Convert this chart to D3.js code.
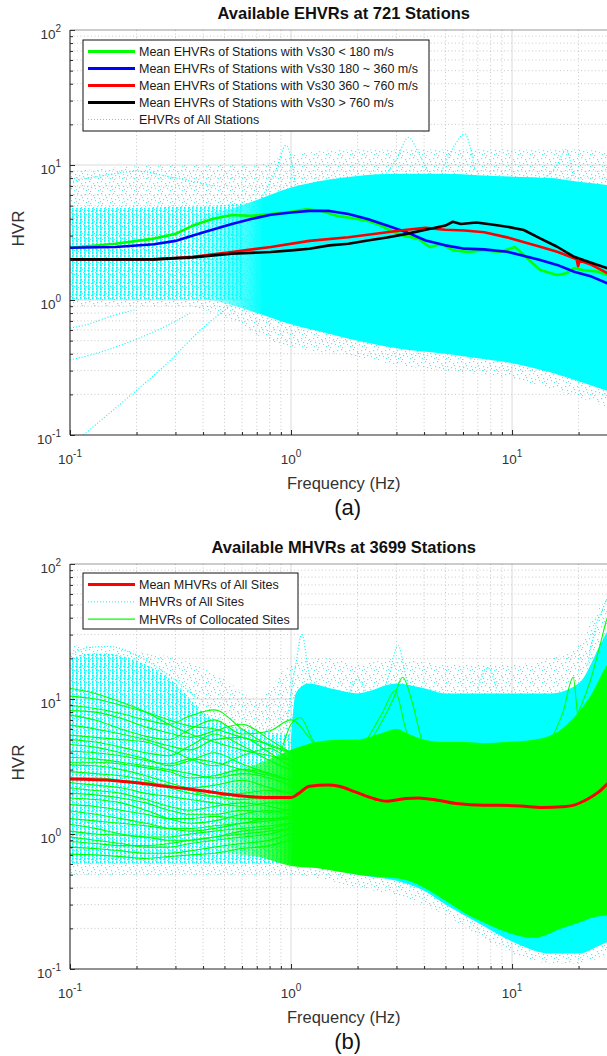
<!DOCTYPE html>
<html><head><meta charset="utf-8">
<script src="https://cdn.jsdelivr.net/npm/d3@7"></script>
<style>
body{margin:0;background:#fff}
text{font-family:Arial,"Liberation Sans",Helvetica,sans-serif}
</style>
</head><body>
<svg id="c" width="607" height="1056"></svg>
<script>
// ---------------- shared axis data ----------------
const xMajorTicks = [0.1, 1, 10];
const yMajorTicks = [0.1, 1, 10, 100];
const tickExponent = {0.1: "-1", 1: "0", 10: "1", 100: "2"};
const minorMultipliers = [2, 3, 4, 5, 6, 7, 8, 9];
const xLabel = "Frequency (Hz)";
const yLabel = "HVR";

// ---------------- panel (a) data ----------------
const titleA = "Available EHVRs at 721 Stations";
const captionA = "(a)";
const legendLabelsA = [
  "Mean EHVRs of Stations with Vs30 < 180 m/s",
  "Mean EHVRs of Stations with Vs30 180 ~ 360 m/s",
  "Mean EHVRs of Stations with Vs30 360 ~ 760 m/s",
  "Mean EHVRs of Stations with Vs30 > 760 m/s",
  "EHVRs of All Stations"
];
const meanVs180A = [[0.1,2.44],[0.16,2.61],[0.24,2.85],[0.3,3.09],[0.36,3.56],[0.44,3.98],[0.54,4.26],[0.66,4.2],[0.81,4.33],[1.0,4.5],[1.17,4.7],[1.37,4.57],[1.61,4.2],[1.82,4.09],[2.22,3.87],[2.51,3.61],[2.72,3.36],[3.2,3.01],[3.76,2.84],[4.24,2.47],[4.79,2.59],[5.4,2.34],[6.35,2.27],[7.47,2.34],[8.79,2.27],[10.3,2.47],[10.7,2.34],[12.2,1.92],[13.4,1.67],[16.0,1.53],[17.6,1.58],[19.1,1.72],[21.0,1.67],[24.5,1.62],[27,1.53],[30,1.48]];
const meanVs360A = [[0.1,2.44],[0.16,2.47],[0.24,2.59],[0.3,2.74],[0.36,3.01],[0.44,3.31],[0.54,3.66],[0.66,3.98],[0.81,4.28],[1.0,4.45],[1.21,4.57],[1.49,4.57],[1.82,4.33],[2.22,3.98],[2.72,3.56],[3.33,3.18],[4.07,2.76],[4.99,2.54],[6.1,2.4],[7.48,2.37],[9.5,2.28],[13.4,1.98],[16.0,1.82],[19.1,1.62],[22.9,1.49],[27,1.33],[30,1.27]];
const meanVs760A = [[0.1,2.0],[0.24,2.0],[0.36,2.09],[0.54,2.27],[0.81,2.47],[1.21,2.74],[1.82,2.92],[2.72,3.18],[3.33,3.31],[4.07,3.42],[4.99,3.31],[6.1,3.27],[7.48,3.18],[9.5,2.91],[13.4,2.48],[16.0,2.28],[19.1,2.04],[19.6,2.0],[19.9,1.78],[20.2,1.96],[22.9,1.82],[27,1.58],[30,1.5]];
const meanVsHardA = [[0.1,2.0],[0.24,2.0],[0.36,2.07],[0.54,2.2],[0.81,2.27],[1.03,2.34],[1.21,2.4],[1.49,2.54],[1.82,2.61],[2.22,2.76],[2.72,2.9],[3.33,3.09],[4.07,3.31],[4.99,3.56],[5.4,3.8],[5.86,3.66],[6.9,3.75],[8.1,3.62],[9.5,3.49],[11.3,3.3],[13.4,2.86],[16.0,2.48],[19.1,2.09],[21.0,1.98],[27,1.72],[30,1.65]];

// cloud of all EHVR curves, read as envelopes
const hatchFreqA = [0.1, 0.2, 0.3, 0.45, 0.6];
const hatchLowA  = [1.0, 1.0, 1.0, 1.0, 1.0];
const hatchHighA = [4.8, 4.8, 4.9, 5.0, 5.2];
const coreFreqA = [0.35, 0.5, 0.7, 1, 1.5, 2, 3, 5, 7, 10, 15, 20, 30];
const coreLowA  = [1.05, 0.95, 0.8, 0.66, 0.56, 0.5, 0.44, 0.4, 0.37, 0.34, 0.29, 0.25, 0.2];
const coreHighA = [4.3, 4.6, 5.5, 6.8, 7.8, 8.3, 8.6, 8.6, 8.4, 8.2, 8.0, 7.5, 7.0];
const sparseFreqA = [0.1, 0.3, 0.5, 0.7, 1, 2, 3, 5, 10, 20, 30];
const sparseLowA  = [0.9, 0.9, 0.75, 0.55, 0.45, 0.38, 0.33, 0.3, 0.26, 0.19, 0.15];
const sparseHighA = [9, 10, 10, 10, 12, 13, 13, 13, 13, 13, 12];
const outlierCurvesA = [
  [[0.115,0.1],[0.19,0.2],[0.27,0.33],[0.39,0.6],[0.55,0.95]],
  [[0.1,0.36],[0.13,0.4],[0.18,0.48],[0.25,0.6],[0.35,0.8]],
  [[0.1,0.62],[0.12,0.66],[0.15,0.75],[0.2,0.85]],
  [[0.1,7.5],[0.15,8.5],[0.2,9],[0.3,8],[0.45,7]],
  [[0.7,5],[0.85,9],[0.95,14],[1.05,7]],
  [[2.6,8],[3.0,11],[3.4,16],[3.8,12],[4.3,8]],
  [[4.8,9],[5.5,14],[6.1,17],[6.8,9]],
  [[14,8],[16,10],[17.5,13],[19,8]]
];

// ---------------- panel (b) data ----------------
const titleB = "Available MHVRs at 3699 Stations";
const captionB = "(b)";
const legendLabelsB = ["Mean MHVRs of All Sites", "MHVRs of All Sites", "MHVRs of Collocated Sites"];
const meanAllB = [[0.1,2.55],[0.16,2.48],[0.24,2.31],[0.36,2.14],[0.54,1.95],[0.81,1.86],[1.0,1.86],[1.08,1.99],[1.21,2.26],[1.47,2.31],[1.65,2.26],[1.95,2.05],[2.42,1.81],[2.72,1.75],[3.3,1.83],[3.76,1.85],[4.6,1.78],[5.6,1.68],[7.47,1.63],[8.8,1.63],[11,1.61],[13.7,1.57],[16.8,1.59],[18.9,1.63],[22.2,1.83],[24.6,2.04],[27,2.35],[30,2.7]];

const hatchFreqB = [0.1, 0.13, 0.17, 0.22, 0.3, 0.4, 0.5, 0.7, 1.0];
const hatchLowB  = [0.6, 0.6, 0.6, 0.6, 0.6, 0.6, 0.6, 0.6, 0.6];
const hatchHighB = [20, 22, 21, 18, 13, 8, 6.5, 5.8, 5.5];
const coreFreqB = [1.0, 1.05, 1.2, 1.5, 2, 3, 4, 5, 7, 10, 15, 20, 25, 30];
const coreLowB  = [0.6, 0.6, 0.58, 0.55, 0.5, 0.45, 0.38, 0.3, 0.22, 0.16, 0.13, 0.13, 0.15, 0.17];
const coreHighB = [5, 11, 13, 12, 11, 13, 12, 11, 11, 11, 11, 13, 25, 45];
const sparseFreqB = [0.1, 0.3, 0.5, 0.7, 1, 1.5, 2, 3, 5, 7, 10, 15, 20, 25, 30];
const sparseLowB  = [0.5, 0.5, 0.5, 0.5, 0.5, 0.45, 0.4, 0.35, 0.25, 0.18, 0.13, 0.11, 0.11, 0.12, 0.13];
const sparseHighB = [25, 20, 14, 10, 18, 20, 18, 20, 18, 18, 18, 20, 25, 50, 60];
const cyanSpikesB = [
  [[0.1,21],[0.12,24],[0.15,24.5],[0.2,21],[0.28,15],[0.38,10]],
  [[0.95,6],[1.05,18],[1.12,30],[1.2,16],[1.35,8]],
  [[1.8,10],[2.0,14],[2.2,11]],
  [[2.5,9],[2.8,16],[3.05,25],[3.3,15],[3.6,9]],
  [[7,12],[7.8,17],[8.5,12]],
  [[22,18],[24,35],[25.5,45],[27,55],[30,60]]
];
const greenMassFreqB = [0.45, 0.7, 1.0, 1.3, 1.7, 2, 2.5, 3, 3.4, 4, 5, 6.1, 7.5, 9.2, 12.6, 16.8, 20, 23, 27, 30];
const greenMassLowB  = [0.72, 0.68, 0.58, 0.56, 0.52, 0.5, 0.48, 0.47, 0.45, 0.4, 0.32, 0.26, 0.22, 0.19, 0.17, 0.2, 0.22, 0.24, 0.25, 0.26];
const greenMassHighB = [2.8, 3.3, 4.2, 4.8, 5, 5, 5.5, 6, 5.5, 5, 4.8, 4.8, 4.7, 4.8, 5, 6, 8, 11, 18, 22];
const greenFreqB = [0.1, 0.13, 0.17, 0.22, 0.28, 0.35, 0.45, 0.6, 0.8, 1.0, 1.3, 1.7];
const greenCurvesB = [
  [12, 11, 9.5, 8, 6.5, 5.5, 4.8, 4.2, 3.8, 3.5, 3.2, 3],
  [10.5, 10, 9, 8, 7, 6.3, 6, 5.2, 4.6, 4, 3.6, 3.2],
  [9, 8.5, 7.8, 7, 6.5, 7.5, 8.3, 6, 4.5, 4, 3.5, 3],
  [8.2, 8.0, 7.2, 6.2, 5.6, 5.2, 5.8, 6.5, 5.0, 4.0, 3.5, 3.0],
  [7.6, 7, 6, 5.3, 5, 6, 7, 5.5, 5.8, 7, 4.5, 3.5],
  [6.4, 6, 5.5, 5, 4.5, 4.2, 5, 5.2, 4, 3.2, 3, 2.8],
  [5.4, 5.2, 5, 4.8, 4.2, 3.6, 3.2, 3.8, 4.3, 3.5, 3, 2.5],
  [5.0, 4.8, 4.4, 4.0, 3.8, 4.5, 5.5, 4.5, 3.5, 3.0, 2.7, 2.5],
  [4.6, 4.4, 4, 3.6, 3.2, 3.5, 4, 3.3, 2.8, 2.5, 2.3, 2.2],
  [4.1, 4.0, 3.8, 3.5, 3.3, 3.6, 3.4, 3.0, 2.7, 2.5, 2.4, 2.3],
  [3.7, 3.6, 3.4, 3.2, 3, 2.8, 2.6, 2.8, 2.6, 2.3, 2.1, 2],
  [3.4, 3.4, 3.3, 3.1, 2.9, 2.6, 2.7, 3.0, 2.8, 2.5, 2.2, 2.1],
  [3.25, 3.2, 3, 2.7, 2.4, 2.2, 2.3, 2.5, 2.2, 2, 1.9, 1.9],
  [2.9, 2.8, 2.7, 2.5, 2.2, 2.0, 1.9, 2.0, 2.1, 2.0, 1.9, 1.8],
  [2.6, 2.6, 2.5, 2.4, 2.3, 2.1, 1.9, 1.8, 1.9, 1.8, 1.7, 1.8],
  [2.4, 2.3, 2.2, 2.0, 1.9, 1.8, 1.7, 1.6, 1.7, 1.7, 1.6, 1.6],
  [2.2, 2.1, 2, 1.8, 1.6, 1.5, 1.6, 1.7, 1.6, 1.5, 1.6, 1.7],
  [2.0, 1.95, 1.85, 1.7, 1.5, 1.4, 1.4, 1.5, 1.45, 1.5, 1.5, 1.5],
  [1.85, 1.8, 1.7, 1.5, 1.3, 1.2, 1.25, 1.4, 1.5, 1.4, 1.5, 1.6],
  [1.65, 1.6, 1.5, 1.4, 1.3, 1.3, 1.35, 1.3, 1.3, 1.35, 1.4, 1.4],
  [1.48, 1.4, 1.3, 1.2, 1.1, 1.05, 1.1, 1.2, 1.3, 1.3, 1.4, 1.5],
  [1.3, 1.25, 1.2, 1.15, 1.1, 1.1, 1.15, 1.2, 1.25, 1.3, 1.35, 1.4],
  [1.18, 1.1, 1.0, 0.95, 0.9, 0.9, 0.95, 1.05, 1.1, 1.2, 1.3, 1.4],
  [1.05, 1.0, 0.98, 0.95, 0.95, 1.0, 1.05, 1.1, 1.15, 1.2, 1.25, 1.3],
  [0.95, 0.9, 0.85, 0.8, 0.8, 0.85, 0.9, 0.95, 1.0, 1.1, 1.2, 1.3],
  [0.88, 0.85, 0.82, 0.82, 0.85, 0.9, 0.95, 1.0, 1.05, 1.1, 1.15, 1.2],
  [0.8, 0.78, 0.75, 0.72, 0.72, 0.75, 0.8, 0.85, 0.9, 1.0, 1.05, 1.1],
  [0.71, 0.7, 0.68, 0.66, 0.68, 0.7, 0.72, 0.78, 0.82, 0.9, 0.95, 1.0]
];
const greenPeaksB = [
  [[0.9,4],[1.0,6.5],[1.1,7.3],[1.25,5],[1.5,3.5]],
  [[1.7,3],[2.2,4.5],[2.6,7],[2.9,10],[3.2,14.5],[3.5,10],[3.9,5],[4.5,3]],
  [[1.7,3],[2.2,5],[2.6,8],[2.95,11.5],[3.3,6],[3.8,3]],
  [[15,5],[17,8],[18.9,14.5],[20,7],[22,6]],
  [[20,8],[23,15],[25,25],[27,40],[30,50]]
];

// ---------------- drawing ----------------
const svg = d3.select("#c");
const defs = svg.append("defs");
const CYAN = "#00ffff", GREEN = "#00ff00";

// textures for the overplotted dotted curves
const hatch = defs.append("pattern").attr("id","hatch").attr("width",4).attr("height",3).attr("patternUnits","userSpaceOnUse");
hatch.append("rect").attr("x",0).attr("y",0).attr("width",1.6).attr("height",2.4).attr("fill",CYAN);
const speck = defs.append("pattern").attr("id","speck").attr("width",12).attr("height",12).attr("patternUnits","userSpaceOnUse");
[[1,2],[5,1],[9,3],[3,6],[7,7],[11,8],[2,10],[6,11],[10,5],[4,9]].forEach(p=>
  speck.append("rect").attr("x",p[0]).attr("y",p[1]).attr("width",1.2).attr("height",1.2).attr("fill","#33e6e6"));

function fade(id, f0, f1, color){
  const gr = defs.append("linearGradient").attr("id",id).attr("gradientUnits","userSpaceOnUse")
    .attr("x1",x(f0)).attr("x2",x(f1)).attr("y1",0).attr("y2",0);
  gr.append("stop").attr("offset",0).attr("stop-color",color).attr("stop-opacity",0);
  gr.append("stop").attr("offset",1).attr("stop-color",color).attr("stop-opacity",1);
}

const x = d3.scaleLog().domain([0.1, 30]).range([70, 617.5]);
const plotLeft = 70, plotRight = 607;

function pairs(freq, a, b){ return freq.map((f,i)=>({f, lo:a[i], hi:b[i]})); }

function drawPanel(opt){
  const {key, top, bottom} = opt;
  const y = d3.scaleLog().domain([0.1, 100]).range([bottom, top]);
  const cx = (70 + 617.5)/2;
  svg.append("clipPath").attr("id","clip"+key).append("rect")
    .attr("x",plotLeft).attr("y",top).attr("width",plotRight-plotLeft).attr("height",bottom-top);
  const g = svg.append("g");

  // grid
  const grid = g.append("g").attr("clip-path",`url(#clip${key})`);
  const xMinor = []; [0.1,1,10].forEach(d=>minorMultipliers.forEach(m=>{ if (d*m<30) xMinor.push(d*m); }));
  const yMinor = []; [0.1,1,10].forEach(d=>minorMultipliers.forEach(m=>yMinor.push(d*m)));
  grid.selectAll(".gxm").data(xMinor).join("line").attr("x1",d=>x(d)).attr("x2",d=>x(d)).attr("y1",top).attr("y2",bottom)
    .attr("stroke","#bdbdbd").attr("stroke-width",0.8).attr("stroke-dasharray","1,2.5");
  grid.selectAll(".gym").data(yMinor).join("line").attr("y1",d=>y(d)).attr("y2",d=>y(d)).attr("x1",plotLeft).attr("x2",plotRight)
    .attr("stroke","#bdbdbd").attr("stroke-width",0.8).attr("stroke-dasharray","1,2.5");
  grid.selectAll(".gxM").data([1,10]).join("line").attr("x1",d=>x(d)).attr("x2",d=>x(d)).attr("y1",top).attr("y2",bottom)
    .attr("stroke","#d6d6d6").attr("stroke-width",0.9);
  grid.selectAll(".gyM").data([1,10]).join("line").attr("y1",d=>y(d)).attr("y2",d=>y(d)).attr("x1",plotLeft).attr("x2",plotRight)
    .attr("stroke","#d6d6d6").attr("stroke-width",0.9);

  const data = g.append("g").attr("clip-path",`url(#clip${key})`);
  const area = d3.area().x(d=>x(d.f)).y0(d=>y(d.lo)).y1(d=>y(d.hi)).curve(d3.curveMonotoneX);
  const line = d3.line().x(d=>x(d[0])).y(d=>y(d[1]));
  const smooth = d3.line().x(d=>x(d[0])).y(d=>y(d[1])).curve(d3.curveMonotoneX);
  opt.drawData(data, y, area, line, smooth);

  // axes (ticks inside)
  const axG = g.append("g");
  const bx = axG.append("g").attr("transform",`translate(0,${bottom})`)
    .call(d3.axisBottom(x).tickValues(xMajorTicks).tickSize(-5).tickFormat(""));
  const bxm = axG.append("g").attr("transform",`translate(0,${bottom})`)
    .call(d3.axisBottom(x).tickValues(xMinor).tickSize(-3).tickFormat(""));
  const ly = axG.append("g").attr("transform",`translate(${plotLeft},0)`)
    .call(d3.axisLeft(y).tickValues(yMajorTicks).tickSize(-5).tickFormat(""));
  const lym = axG.append("g").attr("transform",`translate(${plotLeft},0)`)
    .call(d3.axisLeft(y).tickValues(yMinor).tickSize(-3).tickFormat(""));
  [bx,bxm,ly,lym].forEach(a=>{ a.select(".domain").remove(); a.selectAll("line").attr("stroke","#262626"); });
  axG.append("line").attr("x1",plotLeft).attr("x2",plotLeft).attr("y1",top).attr("y2",bottom).attr("stroke","#262626").attr("stroke-width",1.1);
  axG.append("line").attr("x1",plotLeft).attr("x2",plotRight).attr("y1",bottom).attr("y2",bottom).attr("stroke","#262626").attr("stroke-width",1.1);
  axG.append("line").attr("x1",plotLeft).attr("x2",plotRight).attr("y1",top).attr("y2",top).attr("stroke","#555").attr("stroke-width",0.6);

  // tick labels with superscripts
  xMajorTicks.forEach(v=>{
    const t = g.append("text").attr("x",x(v)).attr("y",bottom+29).attr("text-anchor","middle")
      .attr("font-size",13.5).attr("fill","#333");
    t.append("tspan").text("10");
    t.append("tspan").attr("dy",-7).attr("font-size",10).text(tickExponent[v]);
  });
  yMajorTicks.forEach(v=>{
    const t = g.append("text").attr("x",61).attr("y",y(v)+9).attr("text-anchor","end")
      .attr("font-size",13.5).attr("fill","#333");
    t.append("tspan").text("10");
    t.append("tspan").attr("dy",-7).attr("font-size",10).text(tickExponent[v]);
  });

  // titles & labels
  g.append("text").attr("x",cx).attr("y",top-11).attr("text-anchor","middle").attr("font-size",16.5)
    .attr("font-weight","bold").attr("fill","#111").text(opt.title);
  g.append("text").attr("x",cx).attr("y",bottom+54).attr("text-anchor","middle").attr("font-size",16.5)
    .attr("fill","#333").text(xLabel);
  g.append("text").attr("transform",`translate(24,${(top+bottom)/2-4}) rotate(-90)`).attr("text-anchor","middle")
    .attr("font-size",17).attr("fill","#333").text(yLabel);
  g.append("text").attr("x",cx+4).attr("y",bottom+80).attr("text-anchor","middle")
    .attr("font-family","'Liberation Serif','Times New Roman',serif").attr("font-size",22).attr("fill","#111").text(opt.caption);

  // legend
  const L = opt.legend;
  const lg = g.append("g");
  lg.append("rect").attr("x",L.x).attr("y",L.y).attr("width",L.w).attr("height",L.h)
    .attr("fill","#fff").attr("stroke","#111").attr("stroke-width",1);
  L.items.forEach((it,i)=>{
    const yy = L.y + 11.5 + i*L.step;
    lg.append("line").attr("x1",L.x+5).attr("x2",L.x+52).attr("y1",yy).attr("y2",yy)
      .attr("stroke",it.color).attr("stroke-width",it.width).attr("stroke-dasharray",it.dash||null);
    lg.append("text").attr("x",L.x+56).attr("y",yy+4.5).attr("font-size",12.5).attr("fill","#1a1a1a").text(it.label);
  });
}

fade("fadeA", 0.35, 0.75, CYAN);
fade("fadeGreenB", 0.45, 1.05, GREEN);

// panel (a)
drawPanel({
  key:"a", top:30, bottom:435, title:titleA, caption:captionA,
  legend:{x:83, y:40, w:346, h:91, step:17, items:[
    {label:legendLabelsA[0], color:GREEN, width:3},
    {label:legendLabelsA[1], color:"#0000ff", width:3},
    {label:legendLabelsA[2], color:"#ff0000", width:3},
    {label:legendLabelsA[3], color:"#000", width:3},
    {label:legendLabelsA[4], color:CYAN, width:1, dash:"1,2"}
  ]},
  drawData:(gd, y, area, line, smooth)=>{
    gd.append("path").datum(pairs(sparseFreqA, sparseLowA, sparseHighA)).attr("d",area).attr("fill","url(#speck)").attr("opacity",0.8);
    gd.append("path").datum(pairs(hatchFreqA, hatchLowA, hatchHighA)).attr("d",area).attr("fill","url(#hatch)");
    gd.append("path").datum(pairs(coreFreqA, coreLowA, coreHighA)).attr("d",area).attr("fill","url(#fadeA)");
    outlierCurvesA.forEach(c=>gd.append("path").datum(c).attr("d",smooth).attr("fill","none")
      .attr("stroke",CYAN).attr("stroke-width",1.2).attr("stroke-dasharray","1,2"));
    [[meanVs180A,GREEN],[meanVs360A,"#0000ff"],[meanVs760A,"#ff0000"],[meanVsHardA,"#000"]].forEach(([d,c])=>
      gd.append("path").datum(d).attr("d",line).attr("fill","none").attr("stroke",c).attr("stroke-width",2.6)
        .attr("stroke-linejoin","round"));
  }
});

// panel (b)
drawPanel({
  key:"b", top:564, bottom:969, title:titleB, caption:captionB,
  legend:{x:83, y:573, w:215, h:56, step:17.3, items:[
    {label:legendLabelsB[0], color:"#ff0000", width:3.2},
    {label:legendLabelsB[1], color:CYAN, width:1, dash:"1,2"},
    {label:legendLabelsB[2], color:GREEN, width:1.2}
  ]},
  drawData:(gd, y, area, line, smooth)=>{
    gd.append("path").datum(pairs(sparseFreqB, sparseLowB, sparseHighB)).attr("d",area).attr("fill","url(#speck)").attr("opacity",0.8);
    gd.append("path").datum(pairs(hatchFreqB, hatchLowB, hatchHighB)).attr("d",area).attr("fill","url(#hatch)");
    gd.append("path").datum(pairs(coreFreqB, coreLowB, coreHighB)).attr("d",area).attr("fill",CYAN);
    cyanSpikesB.forEach(c=>gd.append("path").datum(c).attr("d",smooth).attr("fill","none")
      .attr("stroke",CYAN).attr("stroke-width",1.2).attr("stroke-dasharray","1,2"));
    gd.append("path").datum(pairs(greenMassFreqB, greenMassLowB, greenMassHighB)).attr("d",area).attr("fill","url(#fadeGreenB)");
    greenCurvesB.forEach(vals=>gd.append("path").datum(greenFreqB.map((f,i)=>[f,vals[i]])).attr("d",smooth)
      .attr("fill","none").attr("stroke",GREEN).attr("stroke-width",1.1));
    greenPeaksB.forEach(c=>gd.append("path").datum(c).attr("d",smooth).attr("fill","none")
      .attr("stroke",GREEN).attr("stroke-width",1.1));
    gd.append("path").datum(meanAllB).attr("d",smooth).attr("fill","none").attr("stroke","#ff0000")
      .attr("stroke-width",3).attr("stroke-linejoin","round");
  }
});
</script>
</body></html>
